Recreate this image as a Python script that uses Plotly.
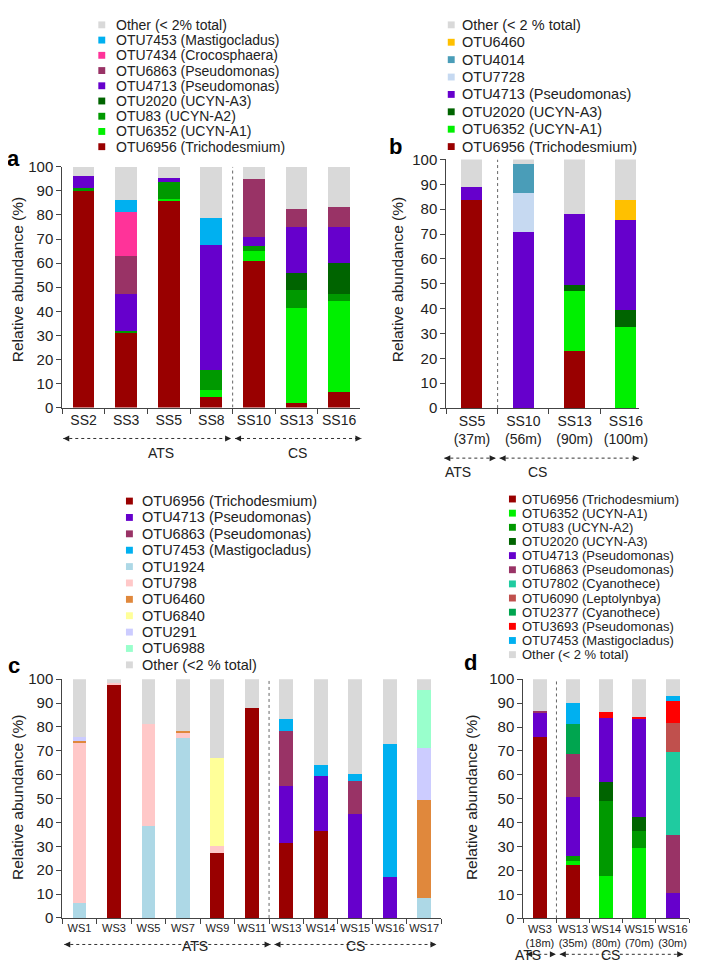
import plotly.graph_objects as go

# The page body keeps the browser's 8px margin, so all positions are given in
# window pixels and shifted by that margin; the figure reaches the window edge.
WIN_W, WIN_H, OFF = 708, 979, 8
W, H = WIN_W - OFF, WIN_H - OFF
FONT = "Arial, 'Liberation Sans', sans-serif"
TXT = "#222222"

# ---------------- DATA ----------------
# Panel a
a_samples = ["SS2", "SS3", "SS5", "SS8", "SS10", "SS13", "SS16"]
a_otu6956 = [90.0, 31.0, 86.1, 4.5, 61.0, 1.8, 6.5]
a_otu6352 = [0, 0, 0.5, 2.6, 4.0, 39.4, 37.7]
a_otu83 = [1.0, 1.0, 6.9, 8.3, 2.1, 7.8, 3.1]
a_otu2020 = [0, 0, 0, 0, 0, 6.8, 12.8]
a_otu4713 = [5.2, 15.2, 1.7, 52.2, 3.6, 19.0, 15.0]
a_otu6863 = [0, 15.8, 0, 0, 24.1, 7.5, 8.4]
a_otu7434 = [0, 18.4, 0, 0, 0, 0, 0]
a_otu7453 = [0, 4.9, 0, 11.3, 0, 0, 0]
a_other = [3.8, 13.7, 4.8, 21.1, 5.2, 17.7, 16.5]

# Panel b
b_samples = ["SS5<br>(37m)", "SS10<br>(56m)", "SS13<br>(90m)", "SS16<br>(100m)"]
b_otu6956 = [83.8, 0, 22.8, 0]
b_otu6352 = [0, 0, 24.2, 32.8]
b_otu2020 = [0, 0, 2.3, 6.5]
b_otu4713 = [5.3, 70.9, 28.6, 36.2]
b_otu7728 = [0, 15.6, 0, 0]
b_otu4014 = [0, 11.5, 0, 0]
b_otu6460 = [0, 0, 0, 8.2]
b_other = [10.9, 2.0, 22.1, 16.3]

# Panel c
c_samples = ["WS1", "WS3", "WS5", "WS7", "WS9", "WS11", "WS13", "WS14", "WS15", "WS16", "WS17"]
c_otu6956 = [0, 97.6, 0, 0, 27.4, 87.9, 31.5, 36.6, 0, 0, 0]
c_otu4713 = [0, 0, 0, 0, 0, 0, 23.6, 22.7, 43.4, 17.1, 0]
c_otu6863 = [0, 0, 0, 0, 0, 0, 23.3, 0, 14.1, 0, 0]
c_otu7453 = [0, 0, 0, 0, 0, 0, 4.9, 4.8, 2.8, 55.8, 0]
c_otu1924 = [6.2, 0, 38.4, 75.3, 0, 0, 0, 0, 0, 0, 8.2]
c_otu798 = [67.4, 0.6, 42.7, 2.4, 2.7, 0, 0, 0, 0, 0, 0]
c_otu6460 = [0.6, 0, 0, 0.7, 0, 0, 0, 0, 0, 0, 41.1]
c_otu6840 = [0, 0, 0, 0, 37.0, 0, 0, 0, 0, 0, 0]
c_otu291 = [1.6, 0, 0, 0, 0, 0, 0, 0, 0, 0, 21.9]
c_otu6988 = [0, 0, 0, 0, 0, 0, 0, 0, 0, 0, 24.4]
c_other = [24.2, 1.8, 18.9, 21.6, 32.9, 12.1, 16.7, 35.9, 39.7, 27.1, 4.4]

# Panel d
d_samples = ["WS3<br>(18m)", "WS13<br>(35m)", "WS14<br>(80m)", "WS15<br>(70m)", "WS16<br>(30m)"]
d_otu6956 = [75.8, 22.4, 0, 0, 0]
d_otu6352 = [0, 1.8, 17.6, 29.4, 0]
d_otu83 = [0, 2.0, 31.6, 7.3, 0]
d_otu2020 = [0, 0, 7.8, 5.9, 0]
d_otu4713 = [10.1, 24.6, 26.9, 41.0, 10.5]
d_otu6863 = [0.7, 18.1, 0, 0, 24.2]
d_otu7802 = [0, 0, 0, 0, 34.8]
d_otu6090 = [0, 0, 0, 0, 12.1]
d_otu2377 = [0, 12.2, 0, 0, 0]
d_otu3693 = [0, 0, 2.4, 0.7, 9.1]
d_otu7453 = [0, 8.9, 0, 0, 2.1]
d_other = [13.4, 10.0, 13.7, 15.7, 7.2]

# ---------------- STYLE ----------------
COL = {
    "6956": "#990000", "6352": "#00F000", "83": "#009900", "2020": "#006400",
    "4713": "#6600CC", "6863": "#993366", "7434": "#FF3399", "7453": "#00B0F0",
    "other": "#D9D9D9", "b6460": "#FFC000", "4014": "#4A9DB8", "7728": "#C6D9F1",
    "1924": "#ADD8E6", "798": "#FFC8C8", "c6460": "#E0883C", "6840": "#FFFF99",
    "291": "#CCCCFF", "6988": "#99FFCC", "7802": "#1FCBA0", "6090": "#C0504D",
    "2377": "#00A54F", "3693": "#FF0000",
}

panels = {
    "a": dict(samples=a_samples, ax="", series=[
        ("OTU6956 (Trichodesmium)", a_otu6956, COL["6956"]),
        ("OTU6352 (UCYN-A1)", a_otu6352, COL["6352"]),
        ("OTU83 (UCYN-A2)", a_otu83, COL["83"]),
        ("OTU2020 (UCYN-A3)", a_otu2020, COL["2020"]),
        ("OTU4713 (Pseudomonas)", a_otu4713, COL["4713"]),
        ("OTU6863 (Pseudomonas)", a_otu6863, COL["6863"]),
        ("OTU7434 (Crocosphaera)", a_otu7434, COL["7434"]),
        ("OTU7453 (Mastigocladus)", a_otu7453, COL["7453"]),
        ("Other (< 2% total)", a_other, COL["other"]),
    ], width=0.51),
    "b": dict(samples=b_samples, ax="2", series=[
        ("OTU6956 (Trichodesmium)", b_otu6956, COL["6956"]),
        ("OTU6352 (UCYN-A1)", b_otu6352, COL["6352"]),
        ("OTU2020 (UCYN-A3)", b_otu2020, COL["2020"]),
        ("OTU4713 (Pseudomonas)", b_otu4713, COL["4713"]),
        ("OTU7728", b_otu7728, COL["7728"]),
        ("OTU4014", b_otu4014, COL["4014"]),
        ("OTU6460", b_otu6460, COL["b6460"]),
        ("Other (< 2 % total)", b_other, COL["other"]),
    ], width=0.41),
    "c": dict(samples=c_samples, ax="3", series=[
        ("OTU6956 (Trichodesmium)", c_otu6956, COL["6956"]),
        ("OTU4713 (Pseudomonas)", c_otu4713, COL["4713"]),
        ("OTU6863 (Pseudomonas)", c_otu6863, COL["6863"]),
        ("OTU7453 (Mastigocladus)", c_otu7453, COL["7453"]),
        ("OTU1924", c_otu1924, COL["1924"]),
        ("OTU798", c_otu798, COL["798"]),
        ("OTU6460", c_otu6460, COL["c6460"]),
        ("OTU6840", c_otu6840, COL["6840"]),
        ("OTU291", c_otu291, COL["291"]),
        ("OTU6988", c_otu6988, COL["6988"]),
        ("Other (<2 % total)", c_other, COL["other"]),
    ], width=0.40),
    "d": dict(samples=d_samples, ax="4", series=[
        ("OTU6956 (Trichodesmium)", d_otu6956, COL["6956"]),
        ("OTU6352 (UCYN-A1)", d_otu6352, COL["6352"]),
        ("OTU83 (UCYN-A2)", d_otu83, COL["83"]),
        ("OTU2020 (UCYN-A3)", d_otu2020, COL["2020"]),
        ("OTU4713 (Pseudomonas)", d_otu4713, COL["4713"]),
        ("OTU6863 (Pseudomonas)", d_otu6863, COL["6863"]),
        ("OTU7802 (Cyanothece)", d_otu7802, COL["7802"]),
        ("OTU6090 (Leptolynbya)", d_otu6090, COL["6090"]),
        ("OTU2377 (Cyanothece)", d_otu2377, COL["2377"]),
        ("OTU3693 (Pseudomonas)", d_otu3693, COL["3693"]),
        ("OTU7453 (Mastigocladus)", d_otu7453, COL["7453"]),
        ("Other (< 2 % total)", d_other, COL["other"]),
    ], width=0.42),
}

# pixel geometry (window pixels) of each panel
geom = {
    "a": dict(x=(63, 365), y=(160.5, 405.5), xr=[-0.5, 6.5], tick=14, tl=5, sep=3.5),
    "b": dict(x=(452, 647), y=(153, 406), xr=[-0.5, 3.25], tick=14, tl=5, sep=0.5),
    "c": dict(x=(63, 447), y=(682, 925), xr=[-0.5, 10.5], tick=11, tl=5, sep=5.5),
    "d": dict(x=(530, 698), y=(682, 925.5), xr=[-0.5, 4.5], tick=11, tl=4, sep=0.5),
}

# legends: square x, text x, first row y, row step, font size, order
legends = {
    "a": dict(sx=103, tx=115, y0=16, dy=15.5, fs=14, rev=True),
    "b": dict(sx=457, tx=466, y0=16, dy=17.7, fs=14.5, rev=True),
    "c": dict(sx=131, tx=142, y0=500.7, dy=16.67, fs=14.5, rev=False),
    "d": dict(sx=519, tx=527, y0=498.6, dy=14.4, fs=13, rev=False),
}

letters = {"a": (14, 152), "b": (401, 140), "c": (14, 668), "d": (477, 665)}
ytitles = {"a": (17, 275), "b": (402, 275), "c": (17, 802), "d": (477, 802)}

# arrows: (x0, x1, y, label, label_x, label_y)
arrows = {
    "a": [(64, 234, 437, "ATS", 148, 452), (238, 366, 437, "CS", 301, 452)],
    "b": [(450, 502, 457, "ATS", 479, 471), (506, 647, 457, "CS", 556, 471)],
    "c": [(65, 274, 952, "ATS", 182, 964), (278, 442, 952, "CS", 360, 964)],
    "d": [(533, 563, 962, "ATS", 550, 973), (567, 692, 962, "CS", 630, 973)],
}


def px(x):
    return (x - OFF) / W


def py(y):
    return 1 - (y - OFF) / H


fig = go.Figure()
shapes = []
annotations = []

for key, p in panels.items():
    ax = p["ax"]
    for name, vals, col in p["series"]:
        fig.add_trace(go.Bar(
            x=p["samples"], y=vals, name=name, width=p["width"],
            marker=dict(color=col, line=dict(width=0)),
            xaxis="x" + ax, yaxis="y" + ax, showlegend=False,
        ))
    g = geom[key]
    xa = dict(
        domain=[px(g["x"][0]), px(g["x"][1])], anchor="y" + ax,
        type="category", categoryorder="array", categoryarray=p["samples"],
        range=g["xr"], tickson="boundaries", ticks="outside", ticklen=g["tl"],
        tickangle=0, tickcolor="#444", showline=True, linecolor="#444",
        linewidth=1, showgrid=False, zeroline=False,
        tickfont=dict(size=g["tick"], family=FONT, color=TXT),
    )
    ya = dict(
        domain=[py(g["y"][1]), py(g["y"][0])], anchor="x" + ax,
        range=[0, 100], tickvals=list(range(0, 101, 10)), ticks="outside",
        ticklen=5, tickcolor="#444", showline=True, linecolor="#444",
        linewidth=1, showgrid=False, zeroline=False,
        tickfont=dict(size=15, family=FONT, color=TXT),
    )
    fig.update_layout(**{"xaxis" + ax: xa, "yaxis" + ax: ya})

    # separator line
    shapes.append(dict(type="line", xref="x" + ax, yref="y" + ax,
                       x0=g["sep"], x1=g["sep"], y0=0, y1=100,
                       line=dict(color="#666", width=1, dash="dot")))

    # legend
    L = legends[key]
    items = list(p["series"])
    if L["rev"]:
        items = items[::-1]
    for i, (name, vals, col) in enumerate(items):
        yy = L["y0"] + i * L["dy"]
        shapes.append(dict(type="rect", xref="paper", yref="paper",
                           x0=px(L["sx"] - 3.5), x1=px(L["sx"] + 3.5),
                           y0=py(yy + 3.5), y1=py(yy - 3.5),
                           fillcolor=col, line=dict(width=0)))
        annotations.append(dict(text=name, x=px(L["tx"]), y=py(yy),
                                xref="paper", yref="paper", xanchor="left",
                                yanchor="middle", showarrow=False,
                                font=dict(size=L["fs"], family=FONT, color=TXT)))

    # panel letter
    lx, ly = letters[key]
    annotations.append(dict(text="<b>%s</b>" % key, x=px(lx), y=py(ly),
                            xref="paper", yref="paper", showarrow=False,
                            xanchor="center", yanchor="middle",
                            font=dict(size=22, family=FONT, color="#000")))
    # y title
    tx, ty = ytitles[key]
    annotations.append(dict(text="Relative abundance (%)", x=px(tx), y=py(ty),
                            xref="paper", yref="paper", showarrow=False,
                            textangle=-90, xanchor="center", yanchor="middle",
                            font=dict(size=15.5, family=FONT, color=TXT)))
    # arrows + group labels
    for (x0, x1, yy, lab, lx2, ly2) in arrows[key]:
        shapes.append(dict(type="line", xref="paper", yref="paper",
                           x0=px(x0), x1=px(x1), y0=py(yy), y1=py(yy),
                           line=dict(color="#333", width=1, dash="dot")))
        for xe, dx in ((x0, 7), (x1, -7)):
            annotations.append(dict(text="", x=px(xe), y=py(yy), xref="paper",
                                    yref="paper", ax=dx, ay=0, showarrow=True,
                                    arrowhead=2, arrowsize=1, arrowwidth=1.2,
                                    arrowcolor="#222", standoff=0))
        annotations.append(dict(text=lab, x=px(lx2), y=py(ly2), xref="paper",
                                yref="paper", showarrow=False,
                                font=dict(size=14, family=FONT, color=TXT)))

fig.update_layout(
    width=W, height=H, autosize=False,
    margin=dict(l=0, r=0, t=0, b=0),
    paper_bgcolor="white", plot_bgcolor="white",
    barmode="stack", showlegend=False,
    font=dict(family=FONT, color=TXT),
    shapes=shapes, annotations=annotations,
)

fig.write_html("out.html")
